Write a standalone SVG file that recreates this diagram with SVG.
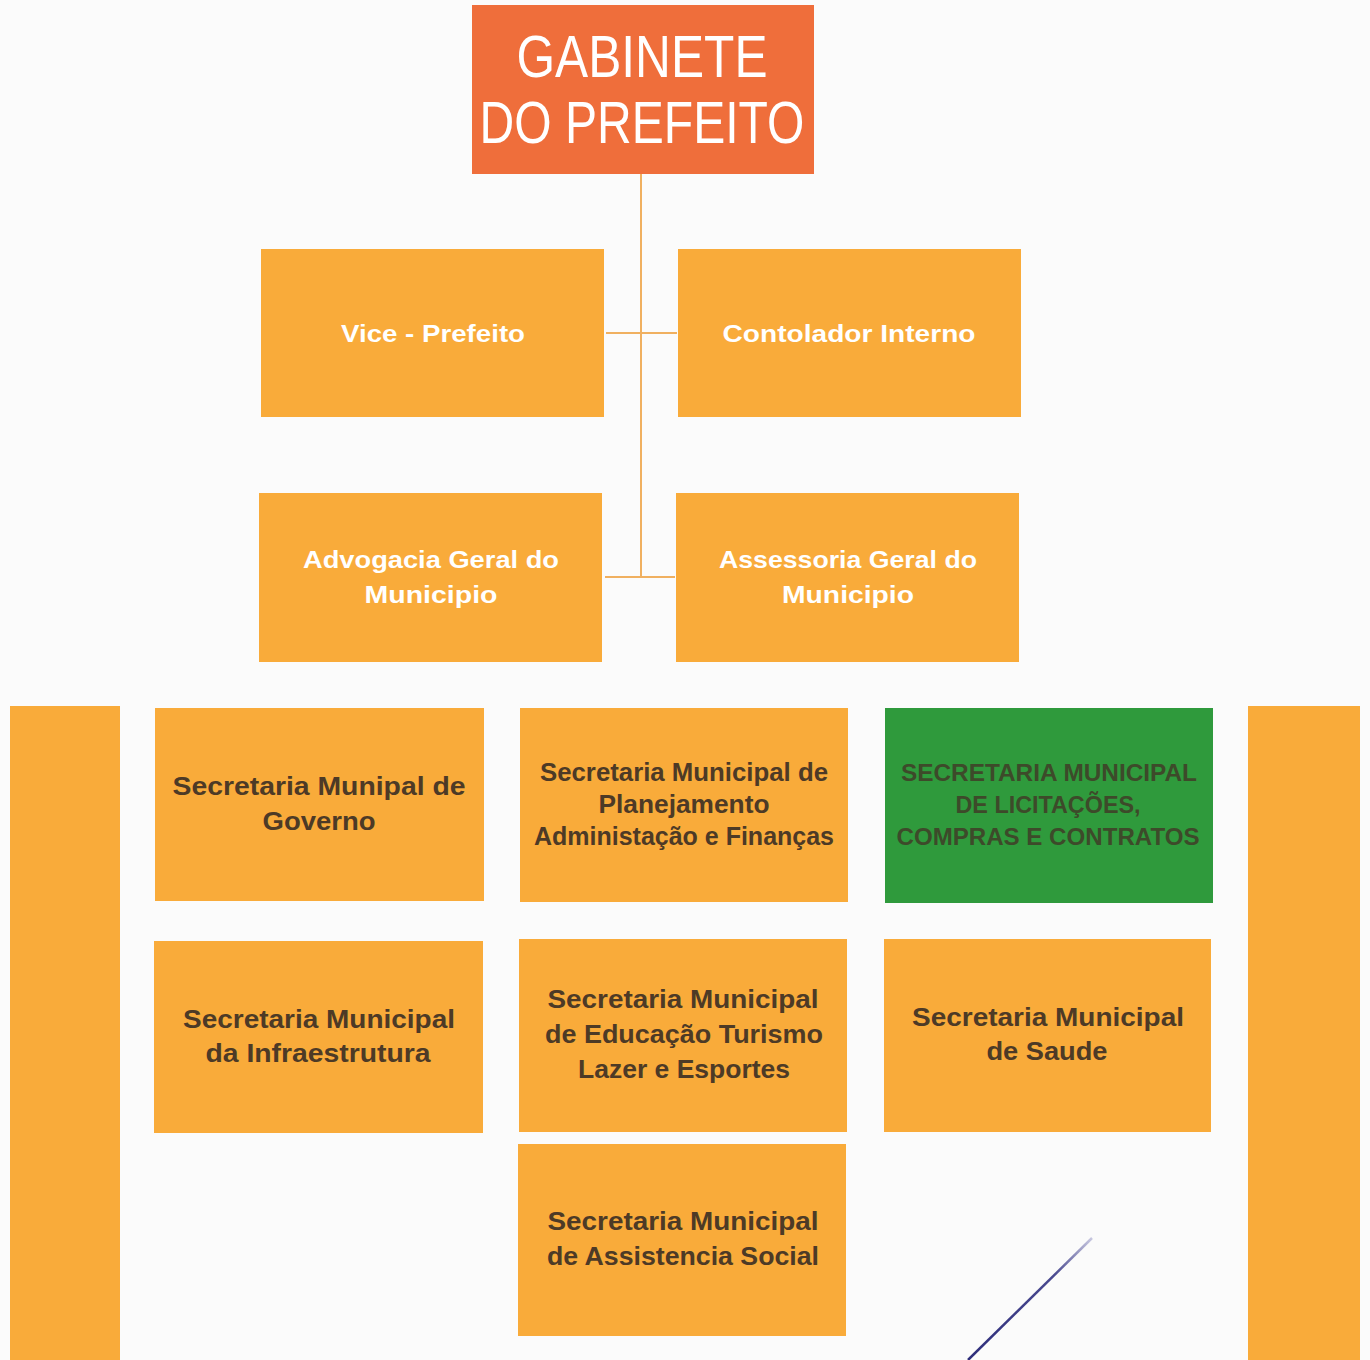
<svg xmlns="http://www.w3.org/2000/svg" width="1370" height="1360" viewBox="0 0 1370 1360">
<defs>
<style>
.bg{fill:#fbfbfb}
.or{fill:#f9ab3a}
.gr{fill:#2f9a3c}
.top{fill:#ef6e3b}
.tw{font-family:"Liberation Sans",Arial,sans-serif;font-weight:bold;fill:#ffffff;text-anchor:middle;font-size:24px}
.tt{font-family:"Liberation Sans",Arial,sans-serif;fill:#ffffff;text-anchor:middle;font-size:60px}
.td{font-family:"Liberation Sans",Arial,sans-serif;font-weight:bold;fill:#4d3a26;text-anchor:middle;font-size:25px}
.tg{font-family:"Liberation Sans",Arial,sans-serif;font-weight:bold;fill:#3d4a2a;text-anchor:middle;font-size:24px}
.cn{stroke:#f0b060;stroke-width:2;fill:none}
</style>
<linearGradient id="pen" x1="0" y1="1" x2="1" y2="0">
<stop offset="0" stop-color="#2d2d7a"/>
<stop offset="0.7" stop-color="#4a4a90"/>
<stop offset="1" stop-color="#c8c8e0"/>
</linearGradient>
</defs>
<rect class="bg" x="0" y="0" width="1370" height="1360"/>
<g id="connectors">
<line class="cn" x1="641" y1="174" x2="641" y2="577"/>
<line class="cn" x1="606" y1="333" x2="677" y2="333"/>
<line class="cn" x1="605" y1="577" x2="675" y2="577"/>
</g>
<g id="gabinete">
<rect class="top" x="472" y="5" width="342" height="169"/>
<text class="tt" x="642" y="77" textLength="251" lengthAdjust="spacingAndGlyphs">GABINETE</text>
<text class="tt" x="642" y="143" textLength="325" lengthAdjust="spacingAndGlyphs">DO PREFEITO</text>
</g>
<g id="vice">
<rect class="or" x="261" y="249" width="343" height="168"/>
<text class="tw" x="433" y="342" textLength="184" lengthAdjust="spacingAndGlyphs">Vice - Prefeito</text>
</g>
<g id="controlador">
<rect class="or" x="678" y="249" width="343" height="168"/>
<text class="tw" x="849" y="342" textLength="253" lengthAdjust="spacingAndGlyphs">Contolador Interno</text>
</g>
<g id="advogacia">
<rect class="or" x="259" y="493" width="343" height="169"/>
<text class="tw" x="431" y="568" textLength="256" lengthAdjust="spacingAndGlyphs">Advogacia Geral do</text>
<text class="tw" x="431" y="603" textLength="133" lengthAdjust="spacingAndGlyphs">Municipio</text>
</g>
<g id="assessoria">
<rect class="or" x="676" y="493" width="343" height="169"/>
<text class="tw" x="848" y="568" textLength="258" lengthAdjust="spacingAndGlyphs">Assessoria Geral do</text>
<text class="tw" x="848" y="603" textLength="132" lengthAdjust="spacingAndGlyphs">Municipio</text>
</g>
<g id="bar-left">
<rect class="or" x="10" y="706" width="110" height="654"/>
</g>
<g id="bar-right">
<rect class="or" x="1248" y="706" width="112" height="654"/>
</g>
<g id="governo">
<rect class="or" x="155" y="708" width="329" height="193"/>
<text class="td" x="319" y="795" textLength="293" lengthAdjust="spacingAndGlyphs">Secretaria Munipal de</text>
<text class="td" x="319" y="830" textLength="113" lengthAdjust="spacingAndGlyphs">Governo</text>
</g>
<g id="planejamento">
<rect class="or" x="520" y="708" width="328" height="194"/>
<text class="td" x="684" y="781" textLength="288" lengthAdjust="spacingAndGlyphs">Secretaria Municipal de</text>
<text class="td" x="684" y="813" textLength="171" lengthAdjust="spacingAndGlyphs">Planejamento</text>
<text class="td" x="684" y="845" textLength="300" lengthAdjust="spacingAndGlyphs">Administação e Finanças</text>
</g>
<g id="licitacoes">
<rect class="gr" x="885" y="708" width="328" height="195"/>
<text class="tg" x="1049" y="781" textLength="296" lengthAdjust="spacingAndGlyphs">SECRETARIA MUNICIPAL</text>
<text class="tg" x="1048" y="813" textLength="185" lengthAdjust="spacingAndGlyphs">DE LICITAÇÕES,</text>
<text class="tg" x="1048" y="845" textLength="303" lengthAdjust="spacingAndGlyphs">COMPRAS E CONTRATOS</text>
</g>
<g id="infraestrutura">
<rect class="or" x="154" y="941" width="329" height="192"/>
<text class="td" x="319" y="1028" textLength="272" lengthAdjust="spacingAndGlyphs">Secretaria Municipal</text>
<text class="td" x="318" y="1062" textLength="225" lengthAdjust="spacingAndGlyphs">da Infraestrutura</text>
</g>
<g id="educacao">
<rect class="or" x="519" y="939" width="328" height="193"/>
<text class="td" x="683" y="1008" textLength="271" lengthAdjust="spacingAndGlyphs">Secretaria Municipal</text>
<text class="td" x="684" y="1043" textLength="278" lengthAdjust="spacingAndGlyphs">de Educação Turismo</text>
<text class="td" x="684" y="1078" textLength="212" lengthAdjust="spacingAndGlyphs">Lazer e Esportes</text>
</g>
<g id="saude">
<rect class="or" x="884" y="939" width="327" height="193"/>
<text class="td" x="1048" y="1026" textLength="272" lengthAdjust="spacingAndGlyphs">Secretaria Municipal</text>
<text class="td" x="1047" y="1060" textLength="121" lengthAdjust="spacingAndGlyphs">de Saude</text>
</g>
<g id="assistencia">
<rect class="or" x="518" y="1144" width="328" height="192"/>
<text class="td" x="683" y="1230" textLength="271" lengthAdjust="spacingAndGlyphs">Secretaria Municipal</text>
<text class="td" x="683" y="1265" textLength="272" lengthAdjust="spacingAndGlyphs">de Assistencia Social</text>
</g>
<line x1="968" y1="1360" x2="1092" y2="1238" stroke="url(#pen)" stroke-width="2.5"/>
</svg>
